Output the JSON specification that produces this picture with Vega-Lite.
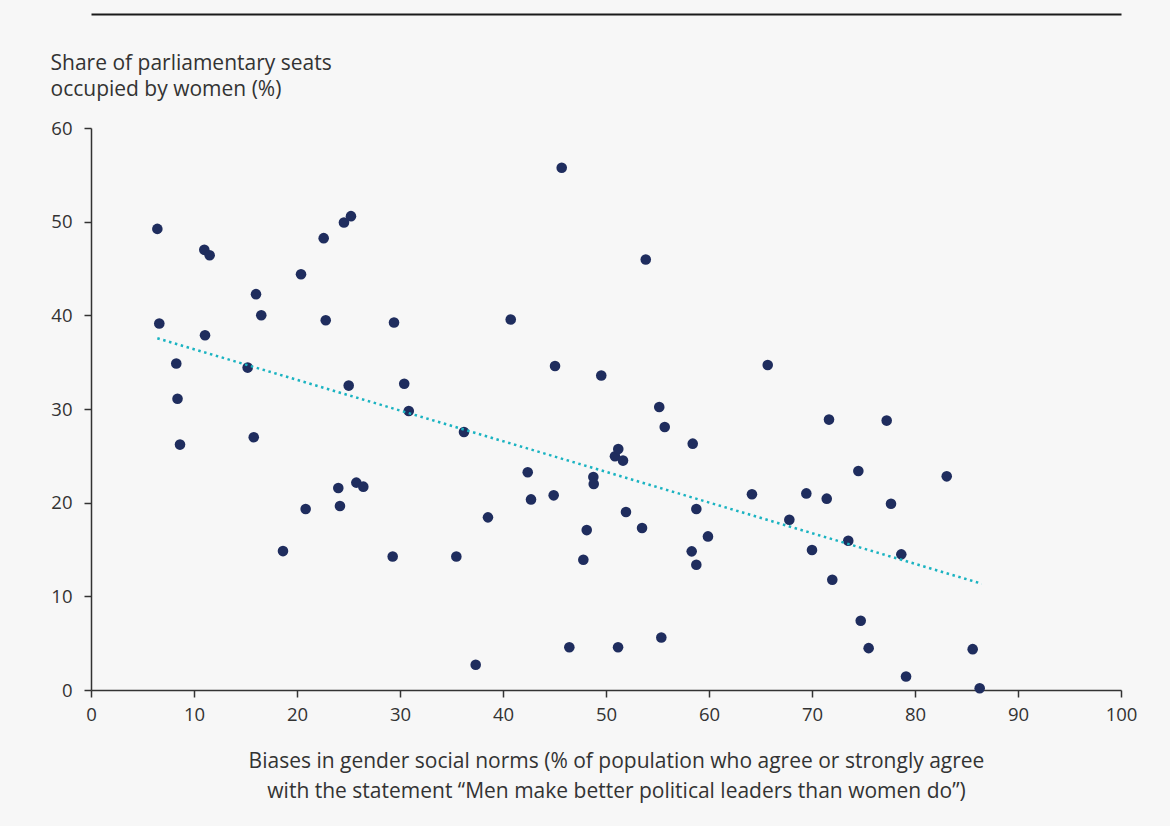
{
  "$schema": "https://vega.github.io/schema/vega-lite/v6.json",
  "width": 1030,
  "height": 562,
  "autosize": "none",
  "padding": {"left": 91, "top": 128, "right": 49, "bottom": 136},
  "background": "#f7f7f7",
  "config": {
    "view": {"stroke": null},
    "font": "Open Sans",
    "axis": {
      "labelFont": "Open Sans", "titleFont": "Open Sans",
      "labelColor": "#333333", "titleColor": "#333333",
      "domainColor": "#333333", "tickColor": "#333333",
      "labelFontSize": 18.5, "titleFontSize": 21,
      "titleFontWeight": "normal", "grid": false, "labelFlush": false,
      "domainWidth": 1.5, "tickWidth": 1.5, "tickSize": 7
    }
  },
  "resolve": {"axis": {"x": "independent"}},
  "datasets": {
    "points": [
      {"bias": 6.44, "seats": 49.23}, {"bias": 6.63, "seats": 39.12}, {"bias": 8.28, "seats": 34.85},
      {"bias": 8.40, "seats": 31.09}, {"bias": 8.64, "seats": 26.20}, {"bias": 11.00, "seats": 46.99},
      {"bias": 11.52, "seats": 46.42}, {"bias": 11.07, "seats": 37.87}, {"bias": 15.21, "seats": 34.42},
      {"bias": 16.02, "seats": 42.26}, {"bias": 16.53, "seats": 40.01}, {"bias": 15.80, "seats": 26.98},
      {"bias": 18.64, "seats": 14.83}, {"bias": 20.39, "seats": 44.39}, {"bias": 20.84, "seats": 19.32},
      {"bias": 22.59, "seats": 48.24}, {"bias": 22.79, "seats": 39.48}, {"bias": 24.56, "seats": 49.91},
      {"bias": 25.24, "seats": 50.59}, {"bias": 25.02, "seats": 32.50}, {"bias": 24.01, "seats": 21.56},
      {"bias": 24.17, "seats": 19.64}, {"bias": 25.76, "seats": 22.14}, {"bias": 26.44, "seats": 21.71},
      {"bias": 29.29, "seats": 14.26}, {"bias": 29.42, "seats": 39.23}, {"bias": 30.41, "seats": 32.69},
      {"bias": 30.85, "seats": 29.78}, {"bias": 35.47, "seats": 14.26}, {"bias": 36.21, "seats": 27.54},
      {"bias": 37.35, "seats": 2.69}, {"bias": 38.54, "seats": 18.43}, {"bias": 40.75, "seats": 39.55},
      {"bias": 42.40, "seats": 23.24}, {"bias": 42.72, "seats": 20.35}, {"bias": 44.92, "seats": 20.78},
      {"bias": 45.05, "seats": 34.59}, {"bias": 45.70, "seats": 55.75}, {"bias": 46.44, "seats": 4.57},
      {"bias": 47.80, "seats": 13.91}, {"bias": 48.13, "seats": 17.07}, {"bias": 48.77, "seats": 22.74},
      {"bias": 48.81, "seats": 21.99}, {"bias": 49.54, "seats": 33.57}, {"bias": 50.87, "seats": 24.95},
      {"bias": 51.19, "seats": 25.73}, {"bias": 51.65, "seats": 24.49}, {"bias": 51.17, "seats": 4.57},
      {"bias": 51.94, "seats": 19.00}, {"bias": 53.50, "seats": 17.29}, {"bias": 53.86, "seats": 45.96},
      {"bias": 55.17, "seats": 30.21}, {"bias": 55.70, "seats": 28.08}, {"bias": 55.37, "seats": 5.61},
      {"bias": 58.32, "seats": 14.80}, {"bias": 58.42, "seats": 26.30}, {"bias": 58.77, "seats": 19.32},
      {"bias": 58.77, "seats": 13.38}, {"bias": 59.90, "seats": 16.40}, {"bias": 64.17, "seats": 20.89},
      {"bias": 65.70, "seats": 34.70}, {"bias": 67.80, "seats": 18.18}, {"bias": 69.45, "seats": 20.99},
      {"bias": 70.00, "seats": 14.94}, {"bias": 71.43, "seats": 20.43}, {"bias": 71.65, "seats": 28.87},
      {"bias": 71.97, "seats": 11.77}, {"bias": 73.52, "seats": 15.94}, {"bias": 74.50, "seats": 23.38},
      {"bias": 74.73, "seats": 7.39}, {"bias": 75.50, "seats": 4.47}, {"bias": 77.25, "seats": 28.76},
      {"bias": 77.67, "seats": 19.89}, {"bias": 78.67, "seats": 14.48}, {"bias": 79.13, "seats": 1.44},
      {"bias": 83.08, "seats": 22.81}, {"bias": 85.60, "seats": 4.36}, {"bias": 86.28, "seats": 0.19}
    ],
    "trend": [
      {"bias": 6.44, "seats": 37.55},
      {"bias": 86.48, "seats": 11.35}
    ]
  },
  "layer": [
    {
      "data": {"name": "points"},
      "mark": {"type": "circle", "size": 112, "opacity": 1, "color": "#1f2d5e"},
      "encoding": {
        "x": {
          "field": "bias", "type": "quantitative",
          "scale": {"domain": [0, 100], "nice": false},
          "axis": {
            "orient": "bottom",
            "values": [0, 10, 20, 30, 40, 50, 60, 70, 80, 90, 100],
            "labelPadding": 8,
            "title": ["Biases in gender social norms (% of population who agree or strongly agree", "with the statement “Men make better political leaders than women do”)"],
            "titleAnchor": "start", "titleAlign": "center", "titleBaseline": "alphabetic",
            "titleX": 525, "titleY": 77, "titleLineHeight": 30
          }
        },
        "y": {
          "field": "seats", "type": "quantitative",
          "scale": {"domain": [0, 60], "nice": false},
          "axis": {
            "values": [0, 10, 20, 30, 40, 50, 60],
            "labelPadding": 12,
            "title": ["Share of parliamentary seats", "occupied by women (%)"],
            "titleAngle": 0, "titleAlign": "left", "titleAnchor": "start", "titleBaseline": "alphabetic",
            "titleX": -41, "titleY": -59, "titleLineHeight": 26
          }
        }
      }
    },
    {
      "data": {"name": "trend"},
      "mark": {"type": "line", "stroke": "#1ab3c1", "strokeWidth": 2.5, "strokeDash": [2.5, 3.6]},
      "encoding": {
        "x": {
          "field": "bias", "type": "quantitative",
          "axis": {
            "orient": "top", "offset": 114, "labels": false, "ticks": false, "title": null,
            "domainColor": "#1a1a1a", "domainWidth": 2
          }
        },
        "y": {"field": "seats", "type": "quantitative"}
      }
    }
  ]
}
